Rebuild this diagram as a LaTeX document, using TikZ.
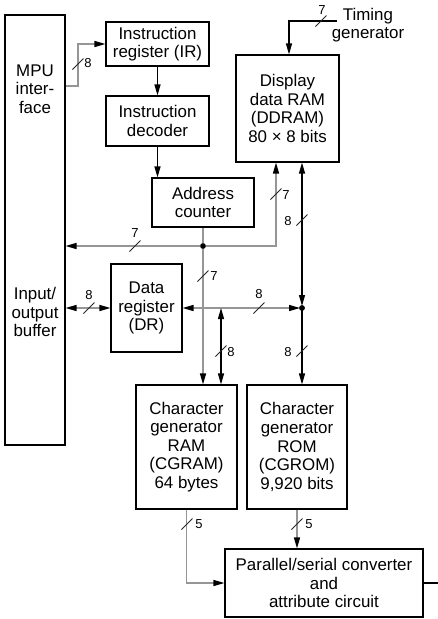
\documentclass[tikz,border=0pt]{standalone}
\usepackage{fontspec}
\setmainfont{Liberation Sans}
\usetikzlibrary{arrows.meta,calc}
\definecolor{busgray}{RGB}{150,150,150}
\begin{document}
\begin{tikzpicture}[x=1pt,y=-1pt,
  blk/.style={draw=black,line width=1.1pt,inner sep=0pt,align=center,font=\fontsize{16.9}{18.6}\selectfont},
  txt/.style={inner sep=0pt,align=center,font=\fontsize{16.9}{18.6}\selectfont},
  lbl/.style={inner sep=0pt,font=\fontsize{13}{15}\selectfont},
  bus/.style={line width=1.4pt,draw=busgray},
  wire/.style={line width=1.2pt,draw=black},
  tip/.style={-{Triangle[length=11pt,width=6pt,color=black]}},
  tipboth/.style={{Triangle[length=11pt,width=6pt,color=black]}-{Triangle[length=11pt,width=6pt,color=black]}},
  slashmk/.style={draw=black!85,line width=0.8pt},
  dot/.style={circle,fill=black,inner sep=0pt,minimum size=5.5pt}
]
\useasboundingbox (0,0) rectangle (438,619);

% blocks
\node[blk,minimum width=60pt,minimum height=430pt] (mpu) at (35,230) {};
\node[txt] (mputxt) at (35,89) {MPU\\inter-\\face};
\node[txt] (iotxt) at (35,312) {Input/\\output\\buffer};
\node[blk,minimum width=103pt,minimum height=44pt] (ir) at (157.5,44) {Instruction\\register (IR)};
\node[blk,minimum width=103pt,minimum height=50pt] (dec) at (157.5,121) {Instruction\\decoder};
\node[blk,minimum width=102pt,minimum height=49pt] (ac) at (203,202.5) {Address\\counter};
\node[blk,minimum width=103pt,minimum height=107pt] (ddram) at (287.5,108.5) {Display\\data RAM\\(DDRAM)\\80 × 8 bits};
\node[blk,minimum width=71pt,minimum height=88pt] (dr) at (146.5,308) {Data\\register\\(DR)};
\node[blk,minimum width=101pt,minimum height=124pt] (cgram) at (186.5,447) {Character\\generator\\RAM\\(CGRAM)\\64 bytes};
\node[blk,minimum width=100pt,minimum height=124pt] (cgrom) at (297,447) {Character\\generator\\ROM\\(CGROM)\\9,920 bits};
\node[blk,minimum width=198pt,minimum height=68pt] (ps) at (324,583) {Parallel/serial converter\\and\\attribute circuit};
\node[txt] (tg) at (368,25) {Timing\\generator};

% junctions
\node[dot] (j1) at (203,246) {};
\node[dot] (j2) at (302,308) {};
\coordinate (j3) at (221,308);
\coordinate (tgout) at (337,21);
\coordinate (out) at (438,583);

% connectors
\draw[bus,tip] (mpu.east |- 0,86) -| (78,44) -- (ir.west);
\draw[wire,tip] (ir) -- (dec);
\draw[wire,tip] (dec.south) -- (dec.south |- ac.north);
\draw[wire,tip] (tgout) -| (ddram.north -| 289,0);
\draw[bus,tip] (ac.south) -- (ac.south |- cgram.north);
\draw[bus,tip] (j1.center) -- (mpu.east |- j1.center);
\draw[bus,tip] (j1.center) -| (ddram.south -| 276,0);
\draw[wire,tipboth,shorten >=2pt] (ddram.south -| j2.center) -- (j2.center);
\draw[wire,tip] (j2.center) -- (j2.center |- cgrom.north);
\draw[bus,tipboth,shorten >=2pt] (dr.east) -- (j2.center);
\draw[wire,tipboth] (j3) -- (j3 |- cgram.north);
\draw[bus,tipboth] (mpu.east |- dr.west) -- (dr.west);
\draw[bus,tip] (cgram.south) |- (ps.west);
\draw[bus,tip] (cgrom.south) -- (cgrom.south |- ps.north);
\draw[wire] (ps.east) -- (out);
\node[dot] at (j1) {};
\node[dot] at (j2) {};

% bus width marks
\foreach \p in {(78,64),(321,21),(135,246),(276,194),(302,220),(203,276),(89,308),(259,308),(221,351),(302,351),(187,524),(297,524)}
  \draw[slashmk] \p ++(-5.5,5.5) -- ++(11,-11);

% labels
\node[lbl] (l1) at (88,63) {8};
\node[lbl] (l2) at (322,10) {7};
\node[lbl] (l3) at (135,233) {7};
\node[lbl] (l4) at (286,195) {7};
\node[lbl] (l5) at (288,221) {8};
\node[lbl] (l6) at (214,276) {7};
\node[lbl] (l7) at (89,295) {8};
\node[lbl] (l8) at (259,294) {8};
\node[lbl] (l9) at (231,352) {8};
\node[lbl] (l10) at (288,352) {8};
\node[lbl] (l11) at (199,524) {5};
\node[lbl] (l12) at (309,524) {5};
\end{tikzpicture}
\end{document}
